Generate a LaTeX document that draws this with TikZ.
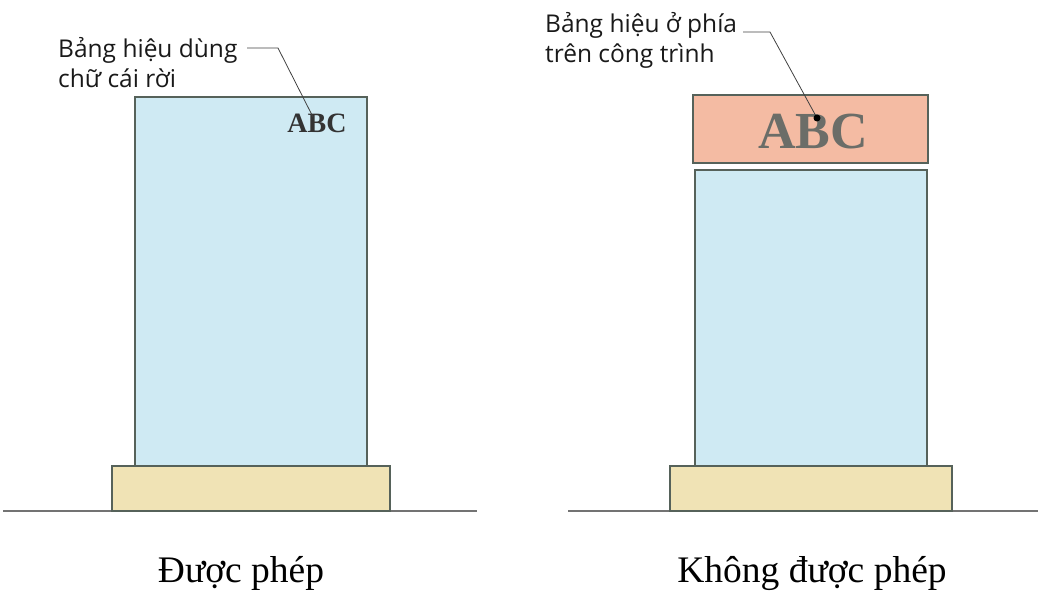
\documentclass[tikz,border=0pt]{standalone}
\usepackage{fontspec}
\setmainfont{Liberation Serif}
\newfontfamily\nhanfont{Open Sans}
\definecolor{xanhnhat}{HTML}{CFEAF3}
\definecolor{vien}{HTML}{56625A}
\definecolor{nen}{HTML}{F0E3B5}
\definecolor{hong}{HTML}{F4BBA3}
\definecolor{chuxam}{HTML}{6B6D68}
\tikzset{
  khoi/.style={draw=vien, line width=1.2pt},
  dat/.style={draw=black!55, line width=1.2pt},
  nhan/.style={font=\nhanfont\fontsize{24.5}{30.5}\selectfont, text=black!90, align=left, inner sep=0pt, anchor=base west},
  chuthich/.style={font=\fontsize{37.5}{40}\selectfont, inner sep=0pt, anchor=base},
  daidan/.style={draw=black!75, line width=0.8pt},
}
\begin{document}
\begin{tikzpicture}[x=1pt,y=-1pt]
\useasboundingbox (0,0) rectangle (1038,594);

%Được phép
\coordinate (P1) at (3,511);
\coordinate (Q1) at (477,511);
\draw[dat] (P1)--(Q1);
\filldraw[khoi, fill=nen] (112,466) rectangle (390,511);
\filldraw[khoi, fill=xanhnhat] (135,97) rectangle (367,466);
\node[font=\bfseries\fontsize{28}{28}\selectfont, text=black!80, inner sep=0pt, anchor=base] (abc1) at (317,132) {ABC};
\node[nhan] (nhan1) at (58,88) {Bảng hiệu dùng\\chữ cái rời};
\coordinate (A1) at (247,48);
\coordinate (B1) at (278,48);
\coordinate (C1) at (313,117);
\draw[daidan] (A1)--(B1)--(C1);
\node[chuthich] (cap1) at (241,582) {Được phép};

%Không được phép
\coordinate (P2) at (568,511);
\coordinate (Q2) at (1038,511);
\draw[dat] (P2)--(Q2);
\filldraw[khoi, fill=nen] (670,466) rectangle (952,511);
\filldraw[khoi, fill=xanhnhat] (695,170) rectangle (927,466);
\filldraw[khoi, fill=hong] (693,95) rectangle (928,163);
\node[font=\bfseries\fontsize{52}{52}\selectfont, text=chuxam, inner sep=0pt, anchor=base] (abc2) at (813,148) {ABC};
\node[nhan] (nhan2) at (545,63) {Bảng hiệu ở phía\\trên công trình};
\coordinate (A2) at (743,32);
\coordinate (B2) at (770,32);
\coordinate (C2) at (817,118);
\draw[daidan] (A2)--(B2)--(C2);
\fill[black] (C2) circle (3.5pt);
\node[chuthich] (cap2) at (812,582) {Không được phép};
\end{tikzpicture}
\end{document}
